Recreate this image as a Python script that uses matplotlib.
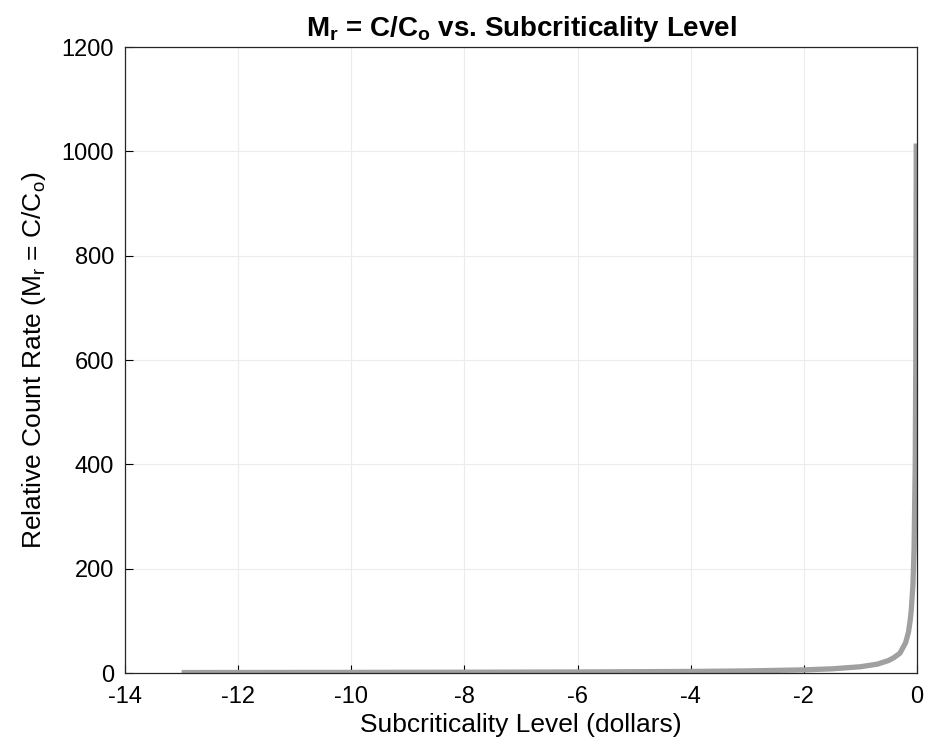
import matplotlib
matplotlib.use("Agg")
import matplotlib.pyplot as plt

# --------------------------------
# Data
# --------------------------------
subcrit_dollars = [-13.0, -12.0, -10.0, -8.0, -6.0, -4.0, -3.0, -2.0, -1.5, -1.0,
                   -0.7, -0.5, -0.4, -0.3, -0.2, -0.15, -0.12, -0.1, -0.07,
                   -0.05, -0.03, -0.02, -0.012]
count_ratio = [0.9, 1.0, 1.2, 1.5, 2.0, 3.0, 4.0, 6.0, 8.0, 12.0,
               17.0, 24.0, 30.0, 38.0, 58.0, 78.0, 100.0, 120.0, 170.0,
               240.0, 400.0, 600.0, 1015.0]

x_ticks = [-14, -12, -10, -8, -6, -4, -2, 0]
y_ticks = [0, 200, 400, 600, 800, 1000, 1200]

# --------------------------------
# Styling
# --------------------------------
plt.rcParams["font.family"] = ["Liberation Sans", "DejaVu Sans"]
plt.rcParams["mathtext.fontset"] = "custom"
plt.rcParams["mathtext.rm"] = "Liberation Sans"
plt.rcParams["mathtext.bf"] = "Liberation Sans:bold"
plt.rcParams["axes.unicode_minus"] = False

fig = plt.figure(figsize=(9.29, 7.55), dpi=100)
ax = fig.add_axes([0.1346, 0.1086, 0.8524, 0.8291])

ax.plot(subcrit_dollars, count_ratio, color="#a0a0a0", lw=3.8,
        solid_capstyle="butt")

ax.set_xlim(-14, 0)
ax.set_ylim(0, 1200)
ax.set_xticks(x_ticks)
ax.set_yticks(y_ticks)
ax.grid(True, color="#ececec", lw=0.8)
ax.set_axisbelow(True)
ax.tick_params(direction="in", length=6, width=0.8, labelsize=17,
               top=False, right=False)
ax.tick_params(axis="x", pad=9)
ax.tick_params(axis="y", pad=8)
for sp in ax.spines.values():
    sp.set_linewidth(0.9)
    sp.set_color("#262626")

ax.set_title(r"$\mathbf{M_r}$ = C/C$_\mathbf{o}$ vs. Subcriticality Level",
             fontsize=20, fontweight="bold", pad=8)
ax.set_xlabel("Subcriticality Level (dollars)", fontsize=19, labelpad=4)
ax.set_ylabel(r"Relative Count Rate (M$_\mathregular{r}$ = C/C$_\mathregular{o}$)",
              fontsize=19, labelpad=10)

fig.savefig("out.png", dpi=100)
